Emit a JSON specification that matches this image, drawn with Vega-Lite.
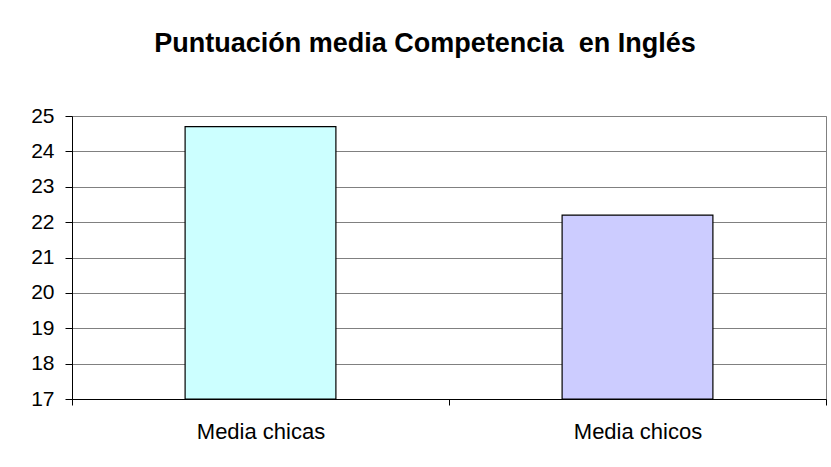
{
  "$schema": "https://vega.github.io/schema/vega-lite/v6.json",
  "width": 754,
  "height": 283,
  "autosize": {"type": "none"},
  "padding": {"left": 72, "top": 116, "right": 5, "bottom": 68},
  "background": "white",
  "title": {
    "text": "Puntuación media Competencia \u00a0en Inglés",
    "font": "Liberation Sans",
    "fontSize": 27,
    "fontWeight": "bold",
    "color": "black",
    "anchor": "middle",
    "frame": "group",
    "dx": -24,
    "offset": 26,
    "baseline": "alphabetic"
  },
  "data": {
    "values": [
      {"grupo": "Media chicas", "puntuacion": 24.7},
      {"grupo": "Media chicos", "puntuacion": 22.2}
    ]
  },
  "mark": {"type": "bar", "stroke": "black", "strokeWidth": 1.2, "width": {"band": 0.4}},
  "encoding": {
    "x": {
      "field": "grupo",
      "type": "nominal",
      "sort": null,
      "scale": {"paddingInner": 0, "paddingOuter": 0},
      "axis": {
        "title": null,
        "labelAngle": 0,
        "labelFont": "Liberation Sans",
        "labelFontSize": 22,
        "labelColor": "black",
        "domainColor": "black",
        "tickColor": "black",
        "tickSize": 6,
        "tickBand": "extent",
        "labelPadding": 16,
        "grid": false,
        "labelBaseline": "top"
      }
    },
    "y": {
      "field": "puntuacion",
      "type": "quantitative",
      "scale": {"domain": [17, 25], "zero": false, "nice": false},
      "axis": {
        "title": null,
        "values": [17, 18, 19, 20, 21, 22, 23, 24, 25],
        "grid": true,
        "gridColor": "#808080",
        "gridOpacity": 1,
        "domainColor": "black",
        "tickColor": "black",
        "tickSize": 7,
        "labelPadding": 11,
        "labelFont": "Liberation Sans",
        "labelFontSize": 21,
        "labelColor": "black"
      }
    },
    "y2": {"datum": 17},
    "color": {
      "field": "grupo",
      "type": "nominal",
      "scale": {"range": ["#CCFFFF", "#CCCCFF"]},
      "legend": null
    }
  },
  "config": {"view": {"stroke": "#808080"}}
}
